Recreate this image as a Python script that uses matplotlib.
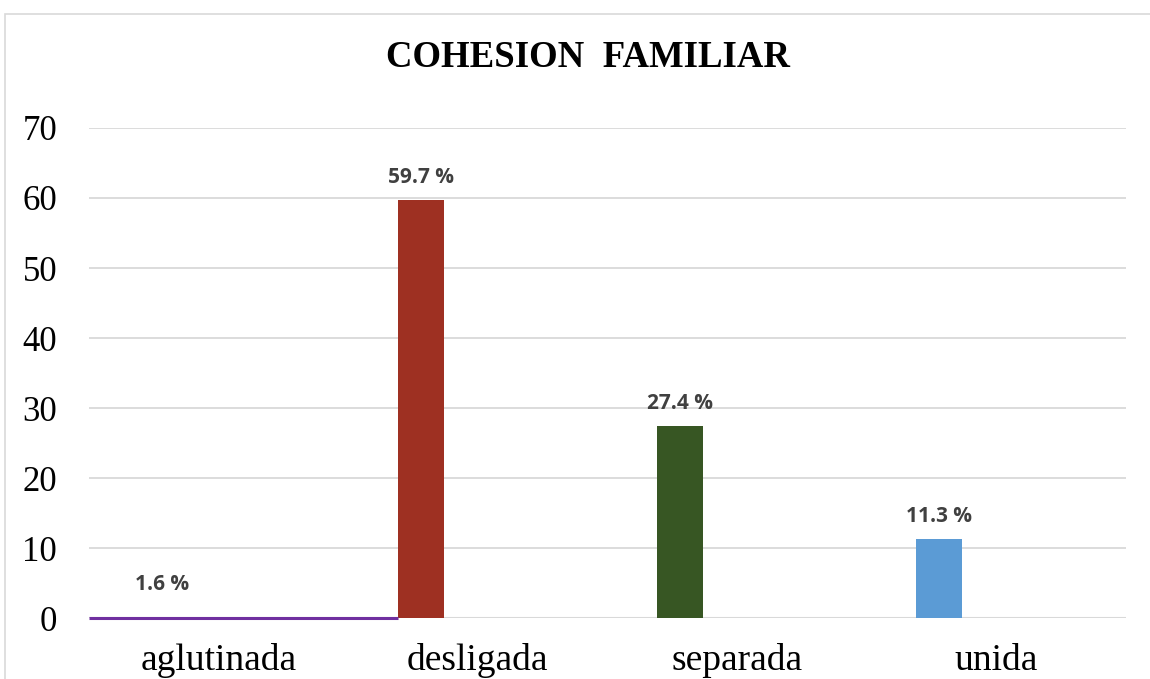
import matplotlib.pyplot as plt
import matplotlib.patches as patches
import numpy as np

categorias = ["aglutinada", "desligada", "separada", "unida"]
porcentajes = [1.6, 59.7, 27.4, 11.3]
etiquetas = ["1.6 %", "59.7 %", "27.4 %", "11.3 %"]
colores = ["#7030A0", "#9E3022", "#375623", "#5B9BD5"]
yticks = [0, 10, 20, 30, 40, 50, 60, 70]

fig = plt.figure(figsize=(11.5, 6.79), dpi=100)
ax = fig.add_axes([0.0774, 0.0898, 0.9016, 0.7217])

x = np.arange(len(categorias))
ancho = 0.178
desplaz = -0.22
pos = x + desplaz

# la primera barra casi no se ve; en el original solo queda la linea morada en la base
for i in range(1, len(categorias)):
    ax.bar(pos[i], porcentajes[i], width=ancho, color=colores[i], zorder=3)

ax.set_xlim(-0.5, len(categorias) - 0.5)
ax.set_ylim(0, 70)
ax.set_yticks(yticks)
ax.grid(axis="y", color="#D9D9D9", linewidth=1.3, zorder=0)
ax.axhline(0, color="#D9D9D9", linewidth=1.5, zorder=1)
ax.plot([-0.5, pos[1] - ancho / 2], [0, 0], color=colores[0], linewidth=2.2,
        solid_capstyle="butt", zorder=4, clip_on=False)

for i in range(len(categorias)):
    ax.annotate(etiquetas[i], (pos[i], porcentajes[i]), xytext=(0, 16),
                textcoords="offset points", ha="center", va="center",
                fontsize=15, fontweight="bold", color="#404040",
                family=["Open Sans", "DejaVu Sans"])

ax.set_xticks(x)
ax.set_xticklabels(categorias, family="Liberation Serif", fontsize=27)
ax.set_yticklabels([str(v) for v in yticks], family="Liberation Serif", fontsize=25)
ax.tick_params(axis="both", length=0)
ax.tick_params(axis="y", pad=23)
ax.tick_params(axis="x", pad=18)
for s in ax.spines.values():
    s.set_visible(False)

fig.text(0.511, 0.915, "COHESION  FAMILIAR", ha="center", va="center",
         family="Liberation Serif", fontweight="bold", fontsize=26.5)

marco = patches.Rectangle((5 / 1150, -0.1), 1.2, 0.98 + 0.1, transform=fig.transFigure,
                          fill=False, edgecolor="#D9D9D9", linewidth=1.2)
fig.patches.append(marco)

fig.savefig("out.png", dpi=100)
